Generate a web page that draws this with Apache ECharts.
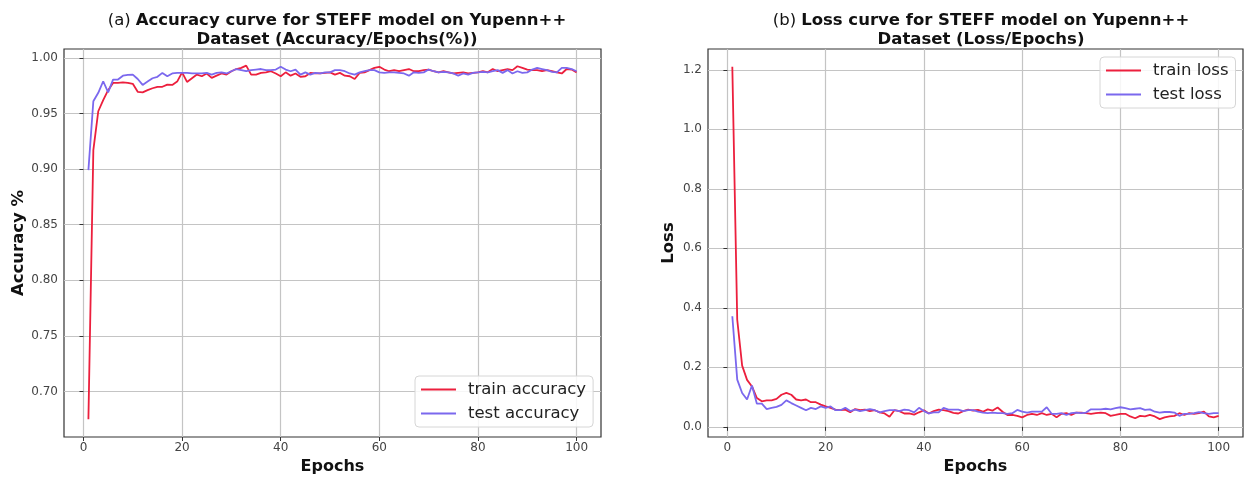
<!DOCTYPE html>
<html>
<head>
<meta charset="utf-8">
<script src="https://cdn.jsdelivr.net/npm/echarts@6/dist/echarts.min.js"></script>
<style>
html, body { margin: 0; padding: 0; background: #fff; }
#chart { width: 1252px; height: 481px; }
</style>
</head>
<body>
<div id="chart"></div>
<script>
// Training history of the STEFF model on Yupenn++ (100 epochs)
const epochs = [
  1, 2, 3, 4, 5, 6, 7, 8, 9, 10, 11, 12, 13, 14, 15, 16, 17, 18, 19, 20,
  21, 22, 23, 24, 25, 26, 27, 28, 29, 30, 31, 32, 33, 34, 35, 36, 37, 38, 39, 40,
  41, 42, 43, 44, 45, 46, 47, 48, 49, 50, 51, 52, 53, 54, 55, 56, 57, 58, 59, 60,
  61, 62, 63, 64, 65, 66, 67, 68, 69, 70, 71, 72, 73, 74, 75, 76, 77, 78, 79, 80,
  81, 82, 83, 84, 85, 86, 87, 88, 89, 90, 91, 92, 93, 94, 95, 96, 97, 98, 99, 100
];

const trainAccuracy = [
  0.675, 0.917, 0.952, 0.962, 0.971, 0.9775, 0.9775, 0.978, 0.9775, 0.9767,
  0.9695, 0.969, 0.971, 0.9727, 0.974, 0.974, 0.976, 0.9757, 0.9787, 0.987,
  0.9784, 0.9817, 0.985, 0.9835, 0.986, 0.982, 0.984, 0.986, 0.985, 0.988,
  0.990, 0.991, 0.993, 0.985, 0.985, 0.9865, 0.987, 0.988, 0.986, 0.9835,
  0.987, 0.984, 0.986, 0.983, 0.9835, 0.9865, 0.986, 0.986, 0.9865, 0.987,
  0.985, 0.9865, 0.984, 0.9835, 0.981, 0.9865, 0.987, 0.989, 0.991, 0.992,
  0.9895, 0.988, 0.989, 0.988, 0.989, 0.990, 0.988, 0.988, 0.989, 0.9895,
  0.988, 0.987, 0.988, 0.987, 0.986, 0.9865, 0.987, 0.986, 0.9865, 0.987,
  0.988, 0.987, 0.990, 0.988, 0.989, 0.990, 0.989, 0.9925, 0.991, 0.9895,
  0.989, 0.989, 0.988, 0.989, 0.988, 0.987, 0.986, 0.990, 0.9895, 0.987
];

const testAccuracy = [
  0.899, 0.961, 0.9686, 0.979, 0.969, 0.9805, 0.9805, 0.984, 0.9847, 0.985,
  0.981, 0.9757, 0.9787, 0.9817, 0.983, 0.9865, 0.9835, 0.986, 0.9865, 0.9865,
  0.9865, 0.986, 0.986, 0.986, 0.9865, 0.985, 0.9865, 0.987, 0.986, 0.988,
  0.990, 0.989, 0.988, 0.989, 0.9895, 0.990, 0.989, 0.989, 0.9895, 0.992,
  0.9895, 0.988, 0.9895, 0.985, 0.987, 0.985, 0.9865, 0.986, 0.987, 0.987,
  0.989, 0.989, 0.988, 0.986, 0.985, 0.987, 0.988, 0.989, 0.989, 0.987,
  0.9865, 0.987, 0.987, 0.9865, 0.986, 0.984, 0.987, 0.9865, 0.987, 0.9895,
  0.988, 0.987, 0.9875, 0.987, 0.986, 0.984, 0.986, 0.985, 0.9865, 0.987,
  0.9875, 0.987, 0.988, 0.989, 0.9865, 0.989, 0.986, 0.988, 0.9865, 0.987,
  0.9895, 0.991, 0.990, 0.989, 0.9875, 0.987, 0.991, 0.991, 0.990, 0.988
];

const trainLoss = [
  1.21, 0.36, 0.206, 0.158, 0.136, 0.097, 0.086, 0.089, 0.089, 0.094,
  0.108, 0.114, 0.108, 0.092, 0.089, 0.092, 0.083, 0.083, 0.075, 0.069,
  0.064, 0.058, 0.056, 0.058, 0.049, 0.060, 0.056, 0.058, 0.053, 0.056,
  0.049, 0.045, 0.034, 0.056, 0.053, 0.045, 0.045, 0.041, 0.049, 0.056,
  0.045, 0.053, 0.058, 0.056, 0.053, 0.047, 0.045, 0.053, 0.058, 0.055,
  0.057, 0.051, 0.059, 0.055, 0.065, 0.051, 0.040, 0.040, 0.037, 0.032,
  0.040, 0.044, 0.040, 0.046, 0.040, 0.044, 0.032, 0.044, 0.046, 0.040,
  0.048, 0.048, 0.046, 0.044, 0.046, 0.048, 0.046, 0.037, 0.040, 0.044,
  0.044, 0.035, 0.029, 0.037, 0.035, 0.040, 0.035, 0.026, 0.032, 0.035,
  0.037, 0.046, 0.040, 0.046, 0.044, 0.046, 0.051, 0.035, 0.032, 0.037
];

const testLoss = [
  0.372, 0.159, 0.114, 0.092, 0.139, 0.078, 0.078, 0.060, 0.064, 0.067,
  0.074, 0.089, 0.080, 0.072, 0.064, 0.056, 0.064, 0.060, 0.069, 0.064,
  0.069, 0.056, 0.056, 0.064, 0.053, 0.058, 0.053, 0.056, 0.060, 0.056,
  0.049, 0.053, 0.056, 0.056, 0.053, 0.058, 0.056, 0.049, 0.064, 0.053,
  0.045, 0.049, 0.049, 0.064, 0.058, 0.058, 0.058, 0.053, 0.056, 0.056,
  0.051, 0.048, 0.046, 0.048, 0.046, 0.046, 0.044, 0.046, 0.057, 0.051,
  0.048, 0.051, 0.051, 0.051, 0.066, 0.044, 0.044, 0.046, 0.040, 0.046,
  0.048, 0.046, 0.048, 0.059, 0.059, 0.059, 0.061, 0.059, 0.063, 0.066,
  0.063, 0.059, 0.061, 0.063, 0.057, 0.059, 0.051, 0.048, 0.050, 0.050,
  0.048, 0.037, 0.044, 0.044, 0.046, 0.050, 0.046, 0.044, 0.046, 0.046
];

// Tick positions on each axis
const epochTicks = [0, 20, 40, 60, 80, 100];
const accuracyTicks = [0.70, 0.75, 0.80, 0.85, 0.90, 0.95, 1.00];
const lossTicks = [0.0, 0.2, 0.4, 0.6, 0.8, 1.0, 1.2];

const seriesNames = ['train accuracy', 'test accuracy', 'train loss', 'test loss'];

const RED = '#ec1f3d';
const BLUE = '#7b68ee';
const FONT = 'DejaVu Sans';

const pairs = (values) => epochs.map((e, i) => [e, values[i]]);

function xAxisFor(gridIndex) {
  return {
    type: 'value',
    gridIndex,
    min: -3.95,
    max: 104.95,
    name: 'Epochs',
    nameLocation: 'middle',
    nameGap: 22,
    nameTextStyle: { fontFamily: FONT, fontWeight: 'bold', fontSize: 16, color: '#111' },
    axisLine: { show: false },
    axisTick: { show: true, length: 4, customValues: epochTicks, lineStyle: { color: '#333' } },
    axisLabel: { customValues: epochTicks, margin: 5, fontFamily: FONT, fontSize: 12, color: '#444' },
    splitLine: { show: true, lineStyle: { color: '#c4c4c4', width: 1.2 } }
  };
}

function yAxisFor(gridIndex, name, min, max, ticks, digits, gap) {
  return {
    type: 'value',
    gridIndex,
    min,
    max,
    name,
    nameLocation: 'middle',
    nameGap: gap,
    nameTextStyle: { fontFamily: FONT, fontWeight: 'bold', fontSize: 16.5, color: '#111' },
    axisLine: { show: false },
    axisTick: { show: true, length: 4, customValues: ticks, lineStyle: { color: '#333' } },
    axisLabel: {
      customValues: ticks, margin: 6, fontFamily: FONT, fontSize: 12, color: '#444',
      formatter: (v) => v.toFixed(digits)
    },
    splitLine: { show: true, lineStyle: { color: '#c4c4c4', width: 1.2 } }
  };
}

function titleLines(centerX, tag, line1, line2) {
  return [
    {
      left: centerX, top: 7, textAlign: 'center',
      text: '{t|' + tag + '} {h|' + line1 + '}',
      textStyle: {
        rich: {
          t: { fontFamily: FONT, fontSize: 16.5, fontWeight: 'normal', color: '#111' },
          h: { fontFamily: FONT, fontSize: 16.5, fontWeight: 'bold', color: '#111' }
        }
      }
    },
    {
      left: centerX, top: 26, textAlign: 'center',
      text: line2,
      textStyle: { fontFamily: FONT, fontSize: 16.5, fontWeight: 'bold', color: '#111' }
    }
  ];
}

function legendAt(left, top, names) {
  return {
    left, top,
    orient: 'vertical',
    data: names,
    icon: 'rect',
    itemWidth: 35,
    itemHeight: 2,
    itemGap: 7,
    padding: [5, 7, 5, 6],
    borderColor: '#d6d6d6',
    borderWidth: 1,
    borderRadius: 4,
    backgroundColor: 'rgba(255,255,255,0.85)',
    textStyle: { fontFamily: FONT, fontSize: 16.5, color: '#222', lineHeight: 17, padding: [0, 0, 0, 7] }
  };
}

function lineSeries(name, values, color, axisIndex) {
  return {
    name,
    type: 'line',
    xAxisIndex: axisIndex,
    yAxisIndex: axisIndex,
    data: pairs(values),
    showSymbol: false,
    symbol: 'none',
    lineStyle: { color, width: 1.8 },
    itemStyle: { color },
    animation: false
  };
}

const chart = echarts.init(document.getElementById('chart'));
chart.setOption({
  backgroundColor: '#fff',
  animation: false,
  title: [
    ...titleLines(332, '(a)', 'Accuracy curve for STEFF model on Yupenn++', 'Dataset (Accuracy/Epochs(%))'),
    ...titleLines(976, '(b)', 'Loss curve for STEFF model on Yupenn++', 'Dataset (Loss/Epochs)')
  ],
  grid: [
    { left: 64, top: 49, width: 537, height: 388, show: true, borderColor: '#333', borderWidth: 1.2, backgroundColor: 'transparent' },
    { left: 708, top: 49, width: 535, height: 388, show: true, borderColor: '#333', borderWidth: 1.2, backgroundColor: 'transparent' }
  ],
  xAxis: [xAxisFor(0), xAxisFor(1)],
  yAxis: [
    yAxisFor(0, 'Accuracy %', 0.659, 1.008, accuracyTicks, 2, 37),
    yAxisFor(1, 'Loss', -0.034, 1.27, lossTicks, 1, 31)
  ],
  legend: [
    legendAt(415, 376, [seriesNames[0], seriesNames[1]]),
    legendAt(1100, 57, [seriesNames[2], seriesNames[3]])
  ],
  series: [
    lineSeries(seriesNames[0], trainAccuracy, RED, 0),
    lineSeries(seriesNames[1], testAccuracy, BLUE, 0),
    lineSeries(seriesNames[2], trainLoss, RED, 1),
    lineSeries(seriesNames[3], testLoss, BLUE, 1)
  ]
});
</script>
</body>
</html>
